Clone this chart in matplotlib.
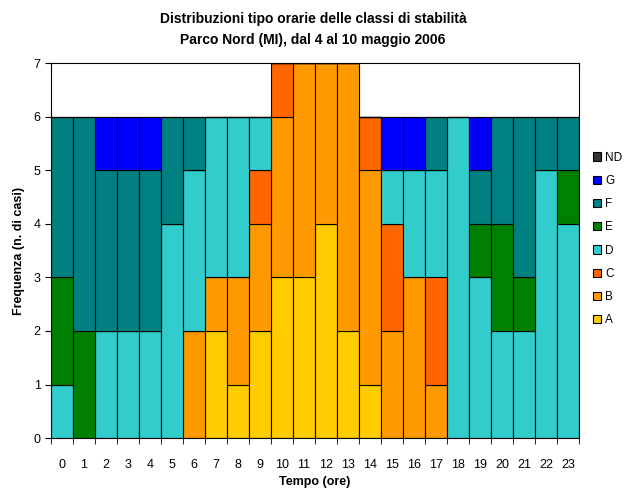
import numpy as np
import matplotlib.pyplot as plt

plt.rcParams['font.family'] = ['Liberation Sans', 'DejaVu Sans']

# ore del giorno
hours = list(range(24))

# frequenze per classe di stabilita' (n. di casi per ora)
A = [0, 0, 0, 0, 0, 0, 0, 2, 1, 2, 3, 3, 4, 2, 1, 0, 0, 0, 0, 0, 0, 0, 0, 0]
B = [0, 0, 0, 0, 0, 0, 2, 1, 2, 2, 3, 4, 3, 5, 4, 2, 3, 1, 0, 0, 0, 0, 0, 0]
C = [0, 0, 0, 0, 0, 0, 0, 0, 0, 1, 1, 0, 0, 0, 1, 2, 0, 2, 0, 0, 0, 0, 0, 0]
D = [1, 0, 2, 2, 2, 4, 3, 3, 3, 1, 0, 0, 0, 0, 0, 1, 2, 2, 6, 3, 2, 2, 5, 4]
E = [2, 2, 0, 0, 0, 0, 0, 0, 0, 0, 0, 0, 0, 0, 0, 0, 0, 0, 0, 1, 2, 1, 0, 1]
F = [3, 4, 3, 3, 3, 2, 1, 0, 0, 0, 0, 0, 0, 0, 0, 0, 0, 1, 0, 1, 2, 3, 1, 1]
G = [0, 0, 1, 1, 1, 0, 0, 0, 0, 0, 0, 0, 0, 0, 0, 1, 1, 0, 0, 1, 0, 0, 0, 0]
ND = [0] * 24

classes = ['A', 'B', 'C', 'D', 'E', 'F', 'G', 'ND']
series = [A, B, C, D, E, F, G, ND]
colors = ['#FFCC00', '#FF9900', '#FF6600', '#33CCCC', '#008000', '#008080', '#0000FF', '#333333']

fig = plt.figure(figsize=(6.26, 4.9), dpi=100)
ax = fig.add_axes([0.0815, 0.106, 0.8435, 0.765])

bottom = np.zeros(24)
handles = []
for name, vals, col in zip(classes, series, colors):
    vals = np.array(vals, dtype=float)
    b = ax.bar(hours, vals, width=1.0, bottom=bottom, color=col,
               edgecolor='black', linewidth=0.8, label=name)
    handles.append(b)
    bottom += vals

ax.set_xlim(-0.5, 23.5)
ax.set_ylim(0, 7)
ax.set_yticks(range(8))
ax.set_xticks(hours)
ax.set_xticks(np.arange(-0.5, 24, 1), minor=True)
ax.tick_params(axis='x', which='major', length=0, labelsize=9, pad=15)
ax.tick_params(axis='x', which='minor', length=4, direction='out')
ax.tick_params(axis='y', length=4, direction='out', labelsize=9)
for s in ax.spines.values():
    s.set_linewidth(0.8)

ax.set_xlabel('Tempo (ore)', fontsize=9, fontweight='bold', labelpad=4)
ax.set_ylabel('Frequenza (n. di casi)', fontsize=9, fontweight='bold', labelpad=6)

fig.text(0.5, 0.962, 'Distribuzioni tipo orarie delle classi di stabilità',
         ha='center', va='center', fontsize=10, fontweight='bold')
fig.text(0.5, 0.918, 'Parco Nord (MI), dal 4 al 10 maggio 2006',
         ha='center', va='center', fontsize=10, fontweight='bold')

leg = fig.legend(handles[::-1], classes[::-1], loc='upper left',
                 bbox_to_anchor=(0.94, 0.70), frameon=False, fontsize=8.5,
                 handlelength=0.7, handleheight=0.7, handletextpad=0.3,
                 labelspacing=0.95, borderaxespad=0)

fig.savefig('out.png', dpi=100)
